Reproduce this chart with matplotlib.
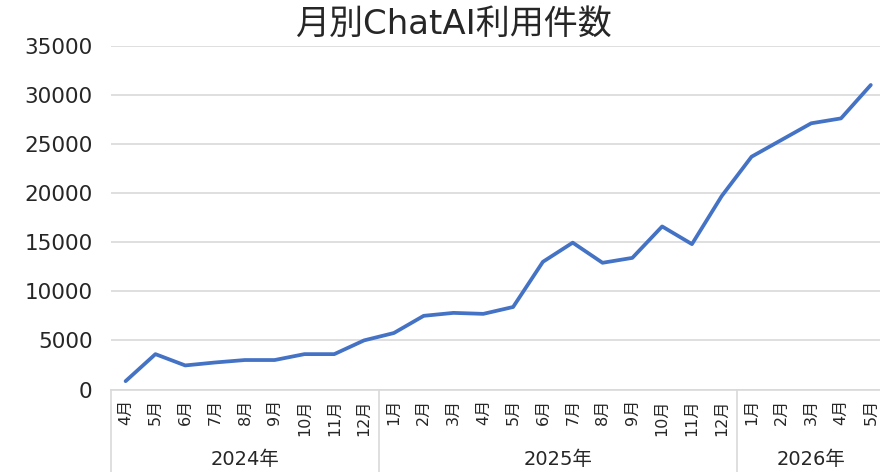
import matplotlib
matplotlib.use('Agg')
import matplotlib.pyplot as plt
import matplotlib.transforms as mtransforms

plt.rcParams['font.family'] = ['DejaVu Sans', 'Noto Sans CJK JP']

# data
months = ['4月', '5月', '6月', '7月', '8月', '9月', '10月', '11月', '12月',
          '1月', '2月', '3月', '4月', '5月', '6月', '7月', '8月', '9月', '10月', '11月', '12月',
          '1月', '2月', '3月', '4月', '5月']
years = ['2024年', '2025年', '2026年']
year_sizes = [9, 12, 5]
counts = [850, 3600, 2450, 2750, 3000, 3000, 3600, 3600, 5000,
          5750, 7500, 7800, 7700, 8400, 13000, 14950, 12900, 13400, 16600, 14800, 19700,
          23700, 25400, 27100, 27600, 31000]

W, H = 880, 472
fig = plt.figure(figsize=(W / 100, H / 100), dpi=100)
left, top, bottom, width = 110.7, 45.7, 389.5, 775
ax = fig.add_axes([left / W, 1 - bottom / H, width / W, (bottom - top) / H])

x = list(range(len(counts)))
ax.plot(x, counts, color='#4472C4', linewidth=2.7, solid_capstyle='round', zorder=3)

ax.set_xlim(-0.5, len(counts) - 0.5)
ax.set_ylim(0, 35000)
ax.set_yticks(range(0, 35001, 5000))
ax.tick_params(axis='y', length=0, pad=13, labelsize=15.5, labelcolor='#262626')
ax.set_xticks(x)
ax.set_xticklabels(months, rotation=90, va='top', ha='center')
ax.tick_params(axis='x', length=0, pad=7, labelsize=11.5, labelcolor='#262626')
ax.grid(axis='y', color='#D9D9D9', linewidth=1.2)
ax.set_axisbelow(True)
for s in ['left', 'right', 'top']:
    ax.spines[s].set_visible(False)
ax.spines['bottom'].set_color('#D9D9D9')
ax.spines['bottom'].set_linewidth(1.2)

# year grouping under the month labels
trans = mtransforms.blended_transform_factory(ax.transData, ax.transAxes)
low = -(H - bottom) / (bottom - top) - 0.01
start = 0
for i, (yr, n) in enumerate(zip(years, year_sizes)):
    ax.plot([start - 0.5, start - 0.5], [0, low], transform=trans, color='#D9D9D9',
            linewidth=1.2, clip_on=False)
    ax.text(start + (n - 1) / 2, -0.205, yr, transform=trans, ha='center', va='center',
            fontsize=14, color='#262626')
    start += n

fig.text(0.515, 1 - 24 / H, '月別ChatAI利用件数', ha='center', va='center',
         fontsize=24.5, color='#262626')

fig.savefig('out.png', dpi=100)
